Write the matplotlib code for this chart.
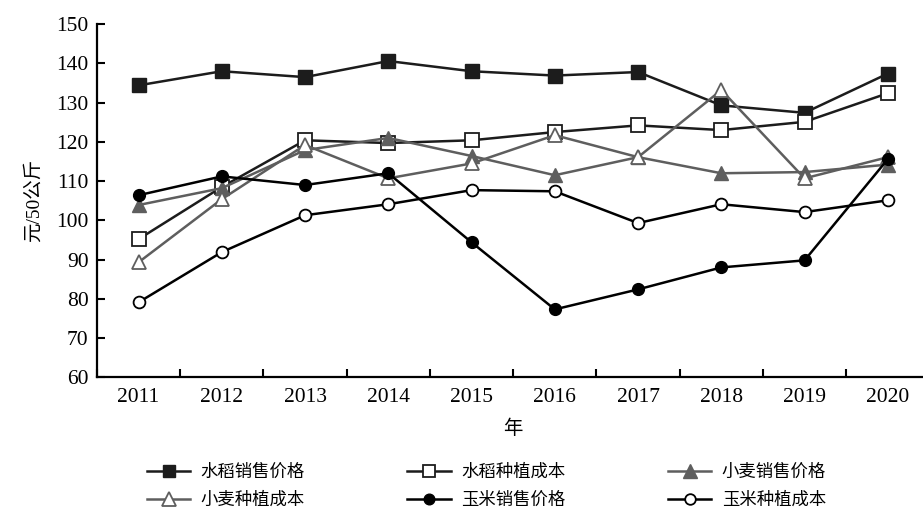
import matplotlib
matplotlib.use('Agg')
import matplotlib.pyplot as plt

plt.rcParams['font.family'] = ['Liberation Serif', 'Noto Sans CJK SC']
plt.rcParams['axes.unicode_minus'] = False

years = ['2011', '2012', '2013', '2014', '2015', '2016', '2017', '2018', '2019', '2020']

# 元/50公斤
rice_price = [134.4, 138.0, 136.5, 140.6, 138.0, 136.9, 137.8, 129.3, 127.4, 137.4]
rice_cost = [95.2, 108.5, 120.4, 119.7, 120.4, 122.5, 124.2, 123.0, 125.1, 132.4]
wheat_price = [103.9, 108.2, 117.9, 121.0, 116.4, 111.5, 116.1, 112.0, 112.3, 114.2]
wheat_cost = [89.3, 105.4, 119.2, 110.7, 114.5, 121.7, 116.1, 133.2, 110.7, 116.1]
corn_price = [106.4, 111.2, 109.0, 112.0, 94.4, 77.3, 82.4, 88.0, 89.8, 115.6]
corn_cost = [79.1, 91.9, 101.3, 104.1, 107.7, 107.4, 99.3, 104.1, 102.1, 105.1]

x = list(range(1, len(years) + 1))

fig = plt.figure(figsize=(9.23, 5.14), dpi=100)
ax = fig.add_axes([0.105, 0.266, 0.902, 0.687])

dark = '#1c1c1c'
grey = '#5e5e5e'

ax.plot(x, rice_price, color=dark, lw=1.8, marker='s', ms=9.5, mfc=dark, mec=dark, label='水稻销售价格')
ax.plot(x, rice_cost, color=dark, lw=1.8, marker='s', ms=9.5, mfc='white', mec=dark, mew=1.3, label='水稻种植成本')
ax.plot(x, wheat_price, color=grey, lw=1.8, marker='^', ms=10.5, mfc=grey, mec=grey, label='小麦销售价格')
ax.plot(x, wheat_cost, color=grey, lw=1.8, marker='^', ms=10.5, mfc='white', mec=grey, mew=1.3, label='小麦种植成本')
ax.plot(x, corn_price, color='black', lw=1.8, marker='o', ms=8.5, mfc='black', mec='black', label='玉米销售价格')
ax.plot(x, corn_cost, color='black', lw=1.8, marker='o', ms=8.5, mfc='white', mec='black', mew=1.3, label='玉米种植成本')

ax.set_ylim(60, 150)
ax.set_yticks(range(60, 151, 10))
ax.set_xlim(0.5, 10.5)
ax.set_xticks(x)
ax.set_xticklabels(years)
ax.set_xticks([i + 0.5 for i in range(0, 10)], minor=True)

for side in ['top', 'right']:
    ax.spines[side].set_visible(False)
for side in ['left', 'bottom']:
    ax.spines[side].set_linewidth(1.6)
    ax.spines[side].set_color('black')

ax.tick_params(axis='y', direction='in', length=6, width=1.5, labelsize=15.5, pad=6)
ax.tick_params(axis='x', which='major', length=0, labelsize=15.5, pad=8)
ax.tick_params(axis='x', which='minor', direction='in', length=6, width=1.5)

ax.set_ylabel('元/50公斤', fontsize=14, labelpad=10)
ax.set_xlabel('年', fontsize=14, labelpad=9)

# legend entries go row by row: reorder for column-wise filling
handles, labels = ax.get_legend_handles_labels()
order = [0, 3, 1, 4, 2, 5]
fig.legend([handles[i] for i in order], [labels[i] for i in order],
           ncol=3, loc='center', bbox_to_anchor=(0.527, 0.053), frameon=False,
           fontsize=12.5, handlelength=2.5, handletextpad=0.6, columnspacing=5.9,
           labelspacing=0.7, markerscale=0.9)

fig.savefig('out.png', dpi=100)
